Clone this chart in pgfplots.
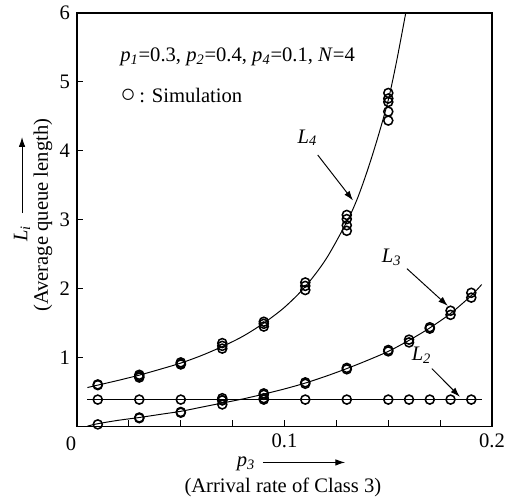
\documentclass[12pt,border=0pt]{standalone}
\usepackage{fontspec}
\setmainfont{Liberation Serif}
\usepackage{pgfplots}
\pgfplotsset{compat=1.18}
\usetikzlibrary{arrows.meta}
\newcommand{\vi}[2]{\textit{#1}\textsubscript{\textit{#2}}}

\begin{document}
\fontsize{12.8}{15}\selectfont
\begin{tikzpicture}
\begin{axis}[
  scale only axis, width=257bp, height=256bp,
  xmin=0, xmax=0.2, ymin=0, ymax=6,
  xtick={0,0.1,0.2}, xticklabels={,0.1,0.2}, minor x tick num=3,
  ytick={1,...,6},
  tick pos=left, tick align=inside,
  major tick length=4bp, minor tick length=4bp,
  axis line style={line width=0.9pt},
  every tick/.style={line width=0.6pt, black},
  /pgf/number format/assume math mode=true,
  clip=false,
  sim/.style={only marks, mark=o, mark size=2.8bp, mark options={line width=0.95pt}},
  curve/.style={black, line width=0.6pt, smooth, mark=none},
]
% analytical curves
\addplot[curve] coordinates {(0.005,0.565)(0.01,0.60)(0.02,0.67)(0.03,0.745)(0.04,0.83)(0.05,0.92)
  (0.06,1.03)(0.07,1.16)(0.08,1.31)(0.09,1.50)(0.10,1.73)(0.11,2.03)(0.12,2.43)(0.13,2.97)
  (0.135,3.30)(0.14,3.72)(0.145,4.20)(0.15,4.74)(0.154,5.30)(0.1584,6.0)};
\addplot[curve] coordinates {(0.005,0.005)(0.01,0.04)(0.02,0.09)(0.03,0.13)(0.04,0.175)(0.05,0.22)
  (0.06,0.28)(0.07,0.34)(0.08,0.40)(0.09,0.47)(0.10,0.545)(0.11,0.63)(0.12,0.73)(0.13,0.84)
  (0.14,0.96)(0.15,1.09)(0.16,1.25)(0.17,1.43)(0.18,1.64)(0.19,1.90)(0.195,2.06)};
\addplot[black, line width=0.6pt] coordinates {(0.005,0.39)(0.195,0.39)};
% simulation
\addplot[sim] coordinates {(0.01,0.61)(0.01,0.60)(0.03,0.75)(0.03,0.73)(0.03,0.71)
  (0.05,0.93)(0.05,0.91)(0.05,0.90)(0.07,1.21)(0.07,1.17)(0.07,1.13)
  (0.09,1.52)(0.09,1.49)(0.09,1.45)(0.11,2.09)(0.11,2.04)(0.11,1.98)
  (0.13,3.07)(0.13,3.01)(0.13,2.92)(0.13,2.84)
  (0.15,4.84)(0.15,4.76)(0.15,4.71)(0.15,4.57)(0.15,4.44)};
\addplot[sim] coordinates {(0.01,0.03)(0.03,0.12)(0.03,0.13)(0.05,0.20)(0.05,0.21)
  (0.07,0.38)(0.07,0.32)(0.09,0.46)(0.09,0.48)(0.11,0.62)(0.11,0.64)(0.13,0.83)(0.13,0.85)
  (0.15,1.09)(0.15,1.11)(0.16,1.26)(0.16,1.22)(0.17,1.42)(0.17,1.44)
  (0.18,1.68)(0.18,1.62)(0.19,1.94)(0.19,1.87)};
\addplot[sim] coordinates {(0.01,0.39)(0.03,0.39)(0.05,0.39)(0.07,0.41)(0.07,0.38)(0.09,0.41)(0.09,0.39)
  (0.11,0.39)(0.13,0.39)(0.15,0.39)(0.16,0.39)(0.17,0.39)(0.18,0.39)(0.19,0.39)};

% annotations
\node[anchor=west] at (axis cs:0.0174,5.36) {\vi{p}{1}=0.3, \vi{p}{2}=0.4, \vi{p}{4}=0.1, \textit{N}=4};
\node[anchor=west] at (axis cs:0.0174,4.81) {{\fontsize{16}{15}\selectfont ○}\,: Simulation};
\node at (axis cs:0.111,4.19) {\vi{L}{4}};
\draw[line width=0.6pt,-{Latex[length=6bp,width=4bp]}] (axis cs:0.116,3.94) -- (axis cs:0.133,3.28);
\node at (axis cs:0.1516,2.45) {\vi{L}{3}};
\draw[line width=0.6pt,-{Latex[length=6bp,width=4bp]}] (axis cs:0.159,2.29) -- (axis cs:0.1787,1.75);
\node at (axis cs:0.166,1.03) {\vi{L}{2}};
\draw[line width=0.6pt,-{Latex[length=6bp,width=4bp]}] (axis cs:0.171,0.84) -- (axis cs:0.1845,0.43);

% axis labels
\node[rotate=90] at (rel axis cs:-0.1325,0.467) {\vi{L}{i}};
\draw[line width=0.6pt,-{Latex[length=6bp,width=4bp]}] (rel axis cs:-0.1325,0.516) -- (rel axis cs:-0.1325,0.70);
\node[rotate=90] at (rel axis cs:-0.082,0.511) {(Average queue length)};
\node at (rel axis cs:0.407,-0.0896) {\vi{p}{3}};
\draw[line width=0.6pt,-{Latex[length=6bp,width=4bp]}] (rel axis cs:0.448,-0.087) -- (rel axis cs:0.646,-0.087);
\node at (rel axis cs:0.496,-0.148) {(Arrival rate of Class 3)};
\node at (rel axis cs:-0.0145,-0.041) {0};
\end{axis}
\pgfresetboundingbox
\path ([shift={(-47.7bp,-45.3bp)}]current axis.south west) rectangle ([shift={(10.5bp,8.1bp)}]current axis.north east);
\end{tikzpicture}
\end{document}
